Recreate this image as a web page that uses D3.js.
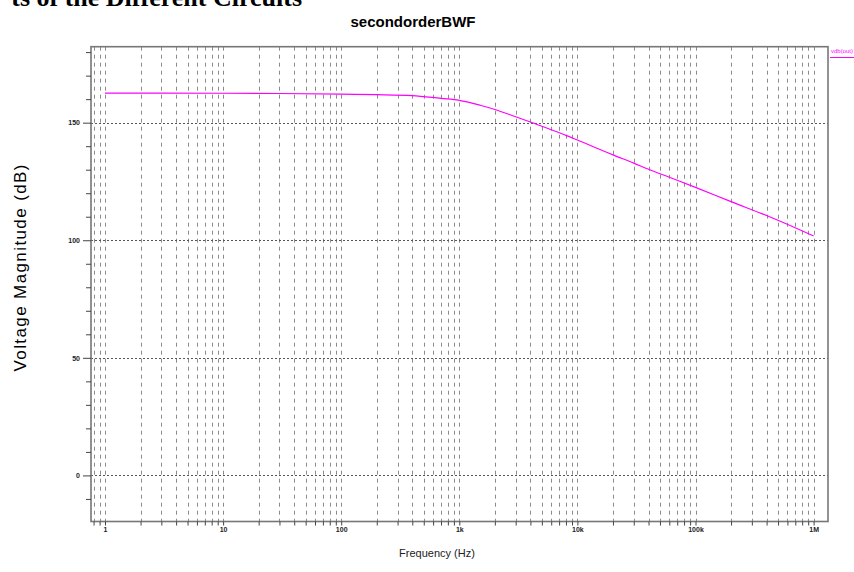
<!DOCTYPE html>
<html>
<head>
<meta charset="utf-8">
<script src="https://cdn.jsdelivr.net/npm/d3@7"></script>
<style>
    body { margin: 0; background: #fff; }
    svg { display: block; }
</style>
</head>
<body>
<svg id="chart" width="854" height="572"></svg>
<script>
// Data
var frequencies = [1, 10, 30, 100, 200, 400, 700, 1000, 1500, 2000, 3000, 4000, 6000, 8000,
    10000, 20000, 30000, 40000, 60000, 100000, 200000, 400000, 1000000];
var magnitudes = [162.6, 162.5, 162.4, 162.1, 161.9, 161.5, 160.3, 159.5, 157.4, 155.6, 152.5, 150.3,
    147.0, 144.6, 142.6, 136.3, 132.8, 130.2, 126.8, 122.5, 116.4, 110.5, 101.8];
var xTickValues = [1, 10, 100, 1000, 10000, 100000, 1000000];
var xTickLabels = ["1", "10", "100", "1k", "10k", "100k", "1M"];
var yTickValues = [0, 50, 100, 150];
var seriesName = "vdb(out)";

var config = {
    frame: {left: 91, right: 828, top: 46.7, bottom: 521.5},
    xDomain: [0.761, 1.324e6],
    yDomain: [-19.6, 182.3],
    lineColor: "#ff00ff",
    gridColor: "#8c8c8c",
    frameColor: "#777",
    tickFont: "Liberation Sans, Arial, sans-serif"
};

var svg = d3.select("#chart");

var x = d3.scaleLog()
    .domain(config.xDomain)
    .range([config.frame.left, config.frame.right]);

var y = d3.scaleLinear()
    .domain(config.yDomain)
    .range([config.frame.bottom, config.frame.top]);

// every 1..9 multiple of each decade inside the domain
var minorFreqs = [];
for (var e = -1; e <= 6; e++) {
    for (var m = 1; m <= 9; m++) {
        var f = m * Math.pow(10, e);
        if (f >= config.xDomain[0] && f <= config.xDomain[1]) minorFreqs.push(f);
    }
}

// vertical dashed grid
svg.append("g")
    .selectAll("line")
    .data(minorFreqs)
    .join("line")
    .attr("x1", function (d) { return Math.round(x(d)) + 0.5; })
    .attr("x2", function (d) { return Math.round(x(d)) + 0.5; })
    .attr("y1", config.frame.top)
    .attr("y2", config.frame.bottom)
    .attr("stroke", config.gridColor)
    .attr("stroke-width", 1)
    .attr("stroke-dasharray", "4,4");

// horizontal dotted grid at the labelled values
svg.append("g")
    .selectAll("line")
    .data(yTickValues)
    .join("line")
    .attr("x1", config.frame.left)
    .attr("x2", config.frame.right)
    .attr("y1", function (d) { return Math.round(y(d)) + 0.5; })
    .attr("y2", function (d) { return Math.round(y(d)) + 0.5; })
    .attr("stroke", "#555")
    .attr("stroke-width", 1)
    .attr("stroke-dasharray", "2,2");

// frame
svg.append("rect")
    .attr("x", config.frame.left)
    .attr("y", config.frame.top)
    .attr("width", config.frame.right - config.frame.left)
    .attr("height", config.frame.bottom - config.frame.top)
    .attr("fill", "none")
    .attr("stroke", config.frameColor)
    .attr("stroke-width", 1.6);

// x axis: short ticks on every minor, labels on decades
var xAxis = d3.axisBottom(x)
    .tickValues(minorFreqs)
    .tickSize(4)
    .tickPadding(2)
    .tickFormat(function (d) {
        var i = xTickValues.indexOf(d);
        return i >= 0 ? xTickLabels[i] : "";
    });

var gx = svg.append("g")
    .attr("transform", "translate(0," + config.frame.bottom + ")")
    .call(xAxis);
gx.select(".domain").remove();
gx.selectAll(".tick line").attr("stroke", "#444");
gx.selectAll(".tick text")
    .attr("fill", "#222")
    .style("font-family", config.tickFont)
    .style("font-size", "7px")
    .style("font-weight", "bold");

// y axis: minor ticks every 10, longer ticks + labels at 50 steps
var yMinor = d3.range(-10, 181, 10);
var gy = svg.append("g")
    .attr("transform", "translate(" + config.frame.left + ",0)")
    .call(d3.axisLeft(y)
        .tickValues(yMinor)
        .tickSize(5)
        .tickFormat(function (d) { return yTickValues.indexOf(d) >= 0 ? d : ""; }));
gy.select(".domain").remove();
gy.selectAll(".tick line")
    .attr("stroke", "#444")
    .attr("x2", function (d) { return yTickValues.indexOf(d) >= 0 ? -8 : -5; });
gy.selectAll(".tick text")
    .attr("x", -11)
    .attr("fill", "#222")
    .style("font-family", config.tickFont)
    .style("font-size", "7px")
    .style("font-weight", "bold");

// the response curve
var line = d3.line()
    .x(function (d, i) { return x(frequencies[i]); })
    .y(function (d) { return y(d); })
    .curve(d3.curveMonotoneX);

svg.append("path")
    .datum(magnitudes)
    .attr("d", line)
    .attr("fill", "none")
    .attr("stroke", config.lineColor)
    .attr("stroke-width", 1.2);

// legend at the top right
svg.append("text")
    .attr("x", 831)
    .attr("y", 53)
    .attr("fill", config.lineColor)
    .style("font-family", config.tickFont)
    .style("font-size", "6px")
    .text(seriesName);
svg.append("line")
    .attr("x1", 830)
    .attr("x2", 854)
    .attr("y1", 57.5)
    .attr("y2", 57.5)
    .attr("stroke", config.lineColor)
    .attr("stroke-width", 1);

// titles
svg.append("text")
    .attr("x", 302)
    .attr("y", 6)
    .attr("text-anchor", "end")
    .attr("fill", "#000")
    .style("font-family", "Liberation Serif, Times New Roman, serif")
    .style("font-size", "26px")
    .style("font-weight", "bold")
    .text("ts of the Different Circuits");

svg.append("text")
    .attr("x", 413)
    .attr("y", 27)
    .attr("text-anchor", "middle")
    .attr("fill", "#000")
    .style("font-family", "Liberation Sans, Arial, sans-serif")
    .style("font-size", "15px")
    .style("font-weight", "bold")
    .text("secondorderBWF");

svg.append("text")
    .attr("transform", "translate(26,268) rotate(-90)")
    .attr("text-anchor", "middle")
    .attr("fill", "#000")
    .style("font-family", "Liberation Sans, Arial, sans-serif")
    .style("font-size", "17px")
    .attr("textLength", 207)
    .attr("lengthAdjust", "spacing")
    .text("Voltage Magnitude (dB)");

svg.append("text")
    .attr("x", 437)
    .attr("y", 557)
    .attr("text-anchor", "middle")
    .attr("fill", "#222")
    .style("font-family", "Liberation Sans, Arial, sans-serif")
    .style("font-size", "11px")
    .text("Frequency (Hz)");
</script>
</body>
</html>
